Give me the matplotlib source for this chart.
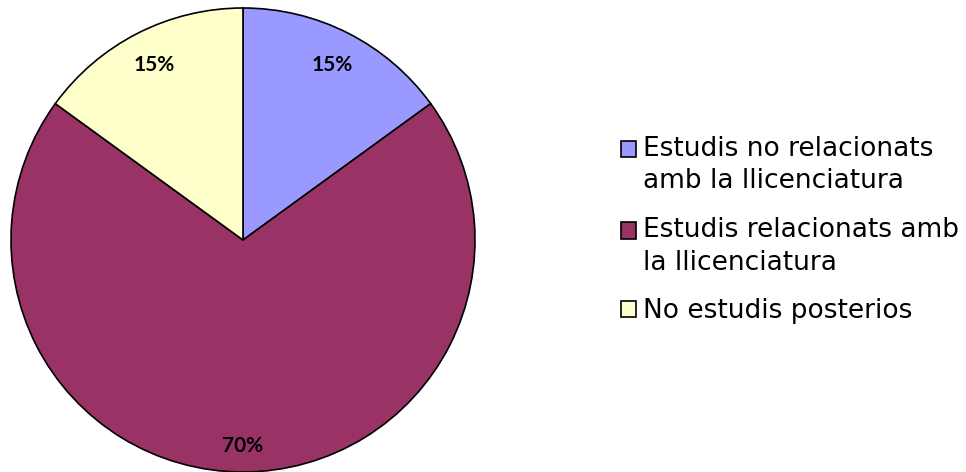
import matplotlib
matplotlib.use("Agg")
import matplotlib.pyplot as plt
import matplotlib.patches as mpatches
from matplotlib.legend_handler import HandlerPatch
import numpy as np

categories = ["Estudis no relacionats\namb la llicenciatura",
              "Estudis relacionats amb\nla llicenciatura",
              "No estudis posterios"]
values = [15, 70, 15]
colors = ["#9999FF", "#993366", "#FFFFCC"]

W, H = 966, 472
fig = plt.figure(figsize=(W / 100, H / 100), dpi=100)
cx, cy, r = 243, 232, 232
ax = fig.add_axes([(cx - r) / W, (cy - r) / H, 2 * r / W, 2 * r / H])

wedges, texts, autotexts = ax.pie(
    values, colors=colors, startangle=90, counterclock=False,
    radius=1.0, autopct="%d%%", pctdistance=0.845,
    wedgeprops=dict(edgecolor="black", linewidth=1.2),
    textprops=dict(fontfamily="Lato", fontweight="bold", fontsize=15, color="black"))
ax.set_xlim(-1, 1)
ax.set_ylim(-1, 1)
ax.set_aspect("equal")
ax.axis("off")
for w in wedges:
    w.set_clip_on(False)

# Larger slice label sits a bit further out
w = wedges[1]
ang = np.deg2rad((w.theta1 + w.theta2) / 2)
autotexts[1].set_position((0.888 * np.cos(ang), 0.888 * np.sin(ang)))

LINE_PT = 33 * 0.72  # pitch of one legend text line, in points


def first_line_patch(legend, orig_handle, xdescent, ydescent, width, height, fontsize):
    return mpatches.Rectangle((-xdescent, -ydescent + LINE_PT / 2), width, height)


hmap = {}
for w_, lab in zip(wedges, categories):
    if "\n" in lab:
        hmap[w_] = HandlerPatch(patch_func=first_line_patch)

leg = fig.legend(wedges, categories, loc="center left",
                 bbox_to_anchor=(621 / W, 1 - 230 / H),
                 frameon=False, prop=dict(family="DejaVu Sans", size=19),
                 handlelength=0.58, handleheight=0.58, handletextpad=0.24,
                 labelspacing=0.86, borderpad=0, borderaxespad=0,
                 handler_map=hmap)
for t in leg.get_texts():
    t.set_linespacing(1.33)
for p in leg.get_patches():
    p.set_edgecolor("black")
    p.set_linewidth(1.2)

fig.savefig("out.png", dpi=100)
